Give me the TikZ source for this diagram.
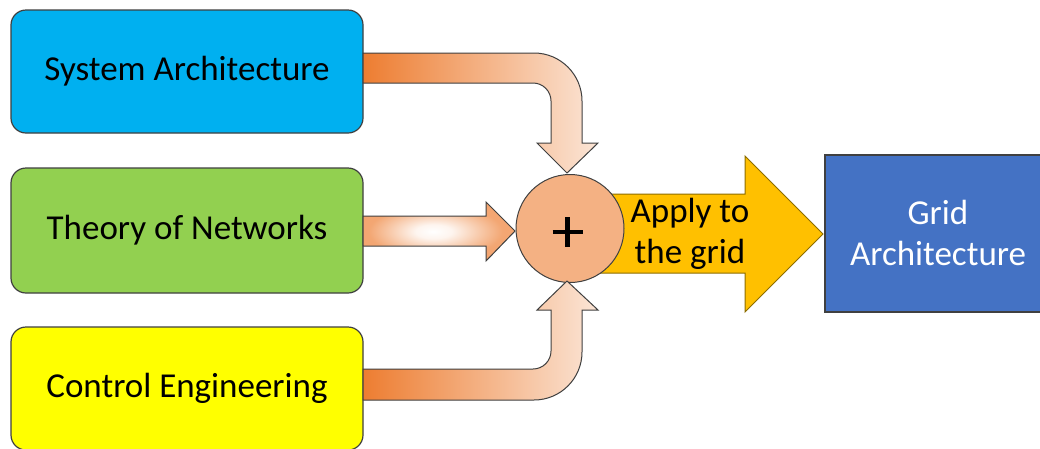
\documentclass[tikz,border=0pt]{standalone}
\usepackage{fontspec}
\setmainfont{Carlito}
\definecolor{sysblue}{HTML}{00B0F0}
\definecolor{netgreen}{HTML}{92D050}
\definecolor{ctlyellow}{HTML}{FFFF00}
\definecolor{gridblue}{HTML}{4472C4}
\definecolor{goldarrow}{HTML}{FFC000}
\definecolor{goldedge}{HTML}{8C6D00}
\definecolor{sumfill}{HTML}{F4B183}
\definecolor{orng}{HTML}{ED7D31}
\definecolor{peach}{HTML}{FBE5D6}
\definecolor{edgegray}{HTML}{404040}
\pgfdeclareradialshading{midglow}{\pgfpoint{-2bp}{0bp}}{color(0bp)=(white); color(6bp)=(orng!8!white); color(15bp)=(orng!42!white); color(22bp)=(orng!68!white); color(50bp)=(orng!75!white)}
\tikzset{
  srcbox/.style={draw=edgegray, line width=1.2pt, rounded corners=15pt, inner sep=0pt},
  boxtext/.style={font=\fontsize{35}{41}\selectfont, align=center},
  bentarrow/.style={draw=edgegray, line width=1pt, left color=orng, right color=peach},
  midarrow/.style={draw=edgegray, line width=1pt, shading=midglow},
}
\begin{document}
\begin{tikzpicture}[x=1pt,y=-1pt]
\path[use as bounding box, clip] (0,0) rectangle (1040,448);
\fill[white] (0,0) rectangle (1040,448);
% source boxes
\draw[srcbox, fill=sysblue] (11,10) rectangle (363,133);
\node[boxtext] (sys) at (187,71.5) {System Architecture};
\draw[srcbox, fill=netgreen] (11,168) rectangle (363,293);
\node[boxtext] (net) at (187,230.5) {Theory of Networks};
\draw[srcbox, fill=ctlyellow] (11,327) rectangle (363,450);
\node[boxtext] (ctl) at (187,388) {Control Engineering};
% grid architecture box
\draw[draw=edgegray, line width=1.2pt, fill=gridblue] (825,155) rectangle (1052,312);
\node[boxtext, text=white] (grid) at (938,233) {Grid\\Architecture};
% yellow arrow
\draw[draw=goldedge, line width=1pt, fill=goldarrow]
  (560,194) -- (745,194) -- (745,156) -- (823,234) -- (745,312) -- (745,273) -- (560,273) -- cycle;
\node[boxtext] (apply) at (690,234) {Apply to\\the grid};
% summing circle
\node[circle, draw=edgegray, line width=1pt, fill=sumfill, minimum size=108pt, inner sep=0pt] (sum) at (570,228.5) {};
\draw[line width=4.2pt] (552.5,232) -- (582.5,232) (567.5,217) -- (567.5,247);
% top bent arrow
\draw[bentarrow]
  (363,53) -- (534,53) .. controls (560.5,53) and (582,74.5) .. (582,101)
  -- (582,143) -- (598,143) -- (567,173) -- (537,143) -- (551,143) -- (551,101)
  .. controls (551,91.1) and (542.9,83) .. (533,83) -- (363,83) -- cycle;
% bottom bent arrow
\draw[bentarrow]
  (363,400) -- (534,400) .. controls (560.5,400) and (582,378.5) .. (582,352)
  -- (582,310) -- (598,310) -- (567,281) -- (537,310) -- (551,310) -- (551,351)
  .. controls (551,360.9) and (542.9,369) .. (533,369) -- (363,369) -- cycle;
% middle arrow
\draw[midarrow]
  (363,216) -- (486,216) -- (486,202) -- (515,231) -- (486,261) -- (486,246) -- (363,246) -- cycle;
\end{tikzpicture}
\end{document}
